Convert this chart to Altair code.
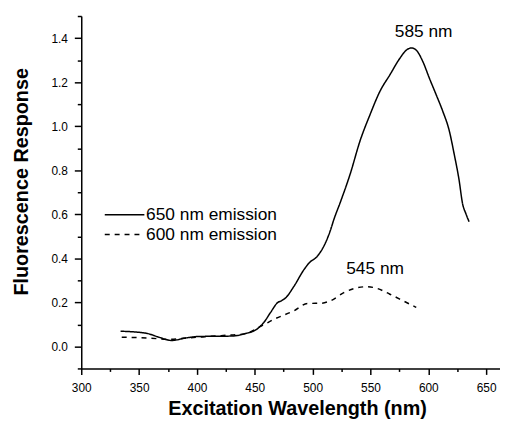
import altair as alt
import pandas as pd

# Data
solid_wl = [334, 356, 367, 378, 390, 401, 430, 441, 453, 458, 464, 470, 473, 477, 484,
            492.6, 497, 504, 511, 515.4, 518.3, 524, 532.5, 541, 549.7, 558.2, 566.8,
            575.3, 581, 585.4, 589.6, 595.4, 601, 606.8, 612.5, 618.2, 622.4, 626.7,
            629.6, 632.4, 635.3]
solid_resp = [0.069, 0.060, 0.042, 0.027, 0.038, 0.045, 0.047, 0.057, 0.083, 0.110, 0.157,
              0.200, 0.207, 0.222, 0.274, 0.349, 0.379, 0.409, 0.469, 0.527, 0.575, 0.655,
              0.783, 0.933, 1.053, 1.158, 1.233, 1.307, 1.345, 1.355, 1.345, 1.292, 1.217,
              1.143, 1.068, 0.978, 0.873, 0.753, 0.649, 0.604, 0.566]
dashed_wl = [335, 358, 376, 393, 421, 441, 455.5, 467, 484, 495.5, 507, 515.4, 527, 535.4,
             546.8, 555.4, 566.8, 578.3, 589.6]
dashed_resp = [0.042, 0.038, 0.032, 0.039, 0.049, 0.057, 0.092, 0.124, 0.162, 0.195, 0.196,
               0.207, 0.244, 0.262, 0.271, 0.264, 0.237, 0.207, 0.177]
series_names = ["650 nm emission", "600 nm emission"]

ann_labels = ["585 nm", "545 nm"]
ann_wl = [596, 554]
ann_resp = [1.425, 0.352]

x_major = [300, 350, 400, 450, 500, 550, 600, 650]
x_minor = [325, 375, 425, 475, 525, 575, 625]
y_major = [0.0, 0.2, 0.4, 0.6, 0.8, 1.0, 1.2, 1.4]
y_minor = [-0.1, 0.1, 0.3, 0.5, 0.7, 0.9, 1.1, 1.3, 1.5]

df = pd.concat([
    pd.DataFrame({"wl": solid_wl, "resp": solid_resp, "series": series_names[0]}),
    pd.DataFrame({"wl": dashed_wl, "resp": dashed_resp, "series": series_names[1]}),
])
ann = pd.DataFrame({"label": ann_labels, "wl": ann_wl, "resp": ann_resp})

FONT = "Liberation Sans"
xscale = alt.Scale(domain=[300, 662], nice=False, zero=False)
yscale = alt.Scale(domain=[-0.1, 1.5], nice=False, zero=False)

x_test = f"indexof({x_major}, datum.value) >= 0"
y_test = "indexof([" + ",".join(str(v) for v in y_major) + "], datum.value) >= 0"

x_axis = alt.Axis(values=sorted(x_major + x_minor), tickCount=100,
                  title="Excitation Wavelength (nm)",
                  format="d", labelExpr=f"{x_test} ? datum.label : ''",
                  labelOverlap=False, labelFlush=False,
                  tickSize={"condition": {"test": x_test, "value": 6}, "value": 3},
                  labelPadding=8, titlePadding=6, titleX=218, grid=False)
y_axis = alt.Axis(values=sorted(y_major + y_minor), tickCount=100,
                  title="Fluorescence Response",
                  format=".1f", labelExpr=f"{y_test} ? datum.label : ''",
                  labelOverlap=False, labelFlush=False,
                  tickSize={"condition": {"test": y_test, "value": 7}, "value": 4},
                  labelPadding=7, titlePadding=20, titleY=167, grid=False)

lines = alt.Chart(df).mark_line(color="black", strokeWidth=1.5, interpolate="monotone").encode(
    x=alt.X("wl:Q", scale=xscale, axis=x_axis),
    y=alt.Y("resp:Q", scale=yscale, axis=y_axis),
    strokeDash=alt.StrokeDash(
        "series:N",
        scale=alt.Scale(domain=series_names, range=[[1, 0], [5, 5]]),
        legend=alt.Legend(title=None, orient="none", legendX=35, legendY=192,
                          symbolType="M-4,0H4", symbolSize=100, symbolStrokeColor="black",
                          symbolStrokeWidth=1.5, symbolFillColor="transparent",
                          labelFontSize=17.5, labelFont=FONT, labelColor="black",
                          labelOffset=13, rowPadding=1, padding=0),
    ),
)

texts = alt.Chart(ann).mark_text(font=FONT, fontSize=17.5, color="black",
                                 align="center", baseline="middle").encode(
    x=alt.X("wl:Q", scale=xscale),
    y=alt.Y("resp:Q", scale=yscale),
    text="label:N",
)

chart = alt.layer(lines, texts).properties(
    width=423, height=356,
    autosize=alt.AutoSizeParams(type="none"),
    padding={"left": 74, "top": 6, "right": 0, "bottom": 52},
).configure_view(stroke=None).configure_axis(
    domainColor="black", domainWidth=1.5, tickColor="black", tickWidth=1.5,
    labelFont=FONT, labelFontSize=12, labelColor="black",
    titleFont=FONT, titleFontSize=20, titleFontWeight="bold", titleColor="black",
)

chart.save("out.html", embed_options={"renderer": "svg", "actions": False})
